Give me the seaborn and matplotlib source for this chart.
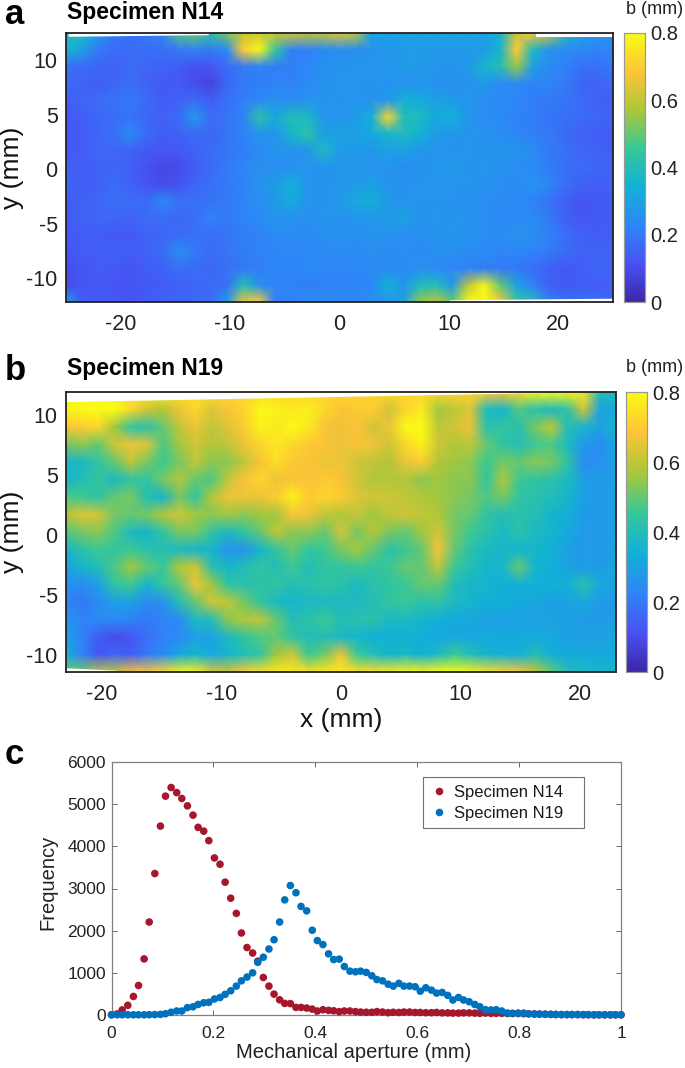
import numpy as np
import pandas as pd
import matplotlib
matplotlib.use("Agg")
import matplotlib.pyplot as plt
from matplotlib.colors import LinearSegmentedColormap
from matplotlib import font_manager
import seaborn as sns

W, H = 685, 1068

# Panel a aperture (x 0.01 mm), rows top to bottom
n14_map = [
[40,38,28,20,18,20,22,48,50,42,52,60,62,62,62,60,60,65,60,30,30,30,30,30,30,30,30,35,62,68,60,40,30,28,26],
[36,30,20,17,17,17,18,20,22,20,24,70,80,45,22,22,24,25,25,26,27,28,28,28,28,28,28,36,70,38,26,24,24,22,22],
[18,17,16,15,17,16,15,14,11,12,17,20,22,21,21,23,25,26,27,27,27,28,28,27,26,28,36,40,55,30,24,22,18,18,20],
[17,15,14,16,18,15,13,13,10,8,16,20,21,22,22,24,26,27,27,26,26,26,26,26,25,26,28,24,24,22,22,20,16,15,17],
[14,16,17,19,20,17,14,15,17,14,18,21,24,25,24,26,26,26,26,26,27,35,33,30,28,27,25,24,23,21,20,19,17,15,14],
[13,14,16,17,19,16,15,17,28,17,19,22,42,32,40,38,27,27,28,34,72,40,38,32,34,27,25,24,22,21,19,18,17,16,15],
[13,14,16,18,24,17,14,15,17,16,19,22,26,27,36,42,30,30,30,32,36,38,35,28,27,26,26,24,23,21,20,17,15,14,13],
[13,14,16,16,15,13,12,13,15,17,19,21,24,26,26,27,38,29,28,27,30,30,27,26,26,27,26,27,26,24,20,18,16,15,14],
[15,14,15,16,15,11,9,10,14,17,20,23,25,25,26,26,26,27,27,26,26,24,26,27,28,26,27,26,25,24,21,18,17,16,15],
[16,14,15,17,15,12,10,11,16,18,20,22,26,28,34,27,26,27,28,30,26,26,26,26,26,27,26,25,24,26,23,18,15,14,15],
[14,15,16,18,17,17,23,18,18,19,20,23,25,28,33,27,26,28,32,34,28,26,26,26,26,25,25,24,24,22,19,15,12,13,14],
[13,15,16,16,15,17,17,16,18,22,20,22,24,26,26,25,27,26,27,27,28,30,26,27,26,26,25,24,24,24,20,15,12,13,14],
[13,14,14,13,13,15,16,17,18,18,19,21,22,24,24,24,25,25,25,26,26,25,25,26,27,26,25,24,26,25,22,18,15,14,14],
[12,14,14,15,14,15,17,25,20,17,19,21,22,23,23,23,24,24,24,25,24,25,24,25,25,24,24,23,23,22,20,17,15,15,15],
[10,12,14,13,12,14,15,18,17,16,18,20,21,23,22,24,23,23,23,24,24,24,25,24,23,22,21,20,20,18,15,13,14,16,15],
[10,12,13,12,12,13,14,15,16,17,18,40,26,22,22,21,22,22,22,23,35,27,38,40,28,60,78,50,30,22,15,13,14,14,14],
[30,14,13,13,12,13,15,15,16,17,30,66,70,22,22,24,25,24,24,25,26,30,55,60,50,80,80,68,45,40,22,18,18,18,16],
]
# Panel b aperture (x 0.01 mm), rows top to bottom
n19_map = [
[78,78,78,78,76,76,75,75,74,74,74,72,72,72,72,72,72,72,72,72,72,72,72,72,72,72,70,68,72,78,80,78,75,40,38],
[78,80,80,80,72,62,58,66,72,64,68,72,80,78,76,78,72,68,70,70,62,72,76,56,60,64,38,36,48,42,38,42,62,30,32],
[68,70,72,56,44,42,50,60,66,60,64,70,78,76,80,76,68,66,68,62,66,80,80,60,62,66,42,44,42,52,60,40,36,30,36],
[52,54,50,62,66,64,48,56,62,58,60,66,72,76,72,70,68,66,68,66,62,72,78,62,58,60,50,44,40,46,48,38,28,24,32],
[36,38,44,50,60,52,46,52,60,54,54,60,68,74,70,68,66,66,62,60,58,66,70,58,56,54,46,52,50,54,52,44,24,26,30],
[36,40,44,38,44,44,52,58,50,48,60,68,72,66,68,68,70,68,62,58,58,58,54,56,54,54,44,58,46,44,42,38,30,28,30],
[48,46,44,50,52,40,36,52,44,58,66,66,66,70,78,70,72,70,64,62,62,60,58,56,54,52,48,52,44,42,40,36,30,28,30],
[58,64,62,52,50,52,58,62,56,54,56,54,56,56,68,66,60,58,60,56,60,62,60,58,52,50,44,40,42,40,36,34,28,28,30],
[48,52,54,48,38,36,44,52,52,44,38,44,50,60,54,54,50,62,52,58,52,50,56,62,52,46,42,38,42,38,36,32,28,28,30],
[36,42,46,44,46,42,40,38,36,36,26,26,36,44,50,44,46,52,56,50,42,46,50,68,50,42,38,36,36,36,34,30,28,28,30],
[30,36,40,48,56,50,46,58,62,42,36,40,44,40,46,40,44,44,46,44,46,50,50,60,46,40,36,36,50,36,34,30,28,28,32],
[26,24,30,44,46,36,44,50,66,56,44,42,42,44,40,42,44,42,38,42,44,46,50,50,40,36,36,34,34,34,34,34,42,32,30],
[22,20,24,30,30,24,26,40,50,62,60,52,44,38,36,38,38,38,38,40,44,46,42,44,38,36,34,34,32,32,30,30,32,28,28],
[26,22,24,24,22,20,22,24,38,40,54,58,60,50,40,42,46,40,42,42,38,38,36,34,32,32,30,30,30,30,30,30,28,28,30],
[30,22,14,10,12,18,22,24,30,30,38,44,48,50,44,40,40,38,36,34,34,34,34,32,32,32,32,32,32,32,32,30,30,30,32],
[34,22,12,16,14,20,24,32,36,32,36,40,44,56,62,46,52,66,46,40,36,38,34,38,46,40,36,34,34,40,34,32,32,32,32],
[50,52,60,60,68,68,72,78,78,64,62,70,74,76,76,74,76,76,74,74,76,78,78,80,80,78,74,72,68,60,50,40,38,36,36],
]

# Uncovered (white) strips along the map edges: x span and the y of the inner boundary
a_top_gap_x = [-24.8, -12.0]
a_top_gap_y = [12.2, 12.35]
a_top_gap2_x = [18.0, 25.0]
a_top_gap2_y = [12.15, 12.15]
a_bot_gap_x = [10.0, 25.0]
a_bot_gap_y = [-12.0, -11.85]
b_top_gap_x = [-23.0, 16.5]
b_top_gap_y = [11.1, 11.85]
b_bot_gap_x = [-23.0, -18.8]
b_bot_gap_y = [-11.05, -11.25]

aperture = [
0.000,0.011,0.021,0.032,0.043,0.053,0.064,0.074,0.085,0.096,0.106,0.117,0.128,0.138,0.149,0.160,0.170,0.181,0.191,
0.202,0.213,0.223,0.234,0.245,0.255,0.266,0.277,0.287,0.298,0.309,0.319,0.330,0.340,0.351,0.362,0.372,0.383,0.394,
0.404,0.415,0.426,0.436,0.447,0.457,0.468,0.479,0.489,0.500,0.511,0.521,0.532,0.543,0.553,0.564,0.574,0.585,0.596,
0.606,0.617,0.628,0.638,0.649,0.660,0.670,0.681,0.691,0.702,0.713,0.723,0.734,0.745,0.755,0.766,0.777,0.787,0.798,
0.809,0.819,0.830,0.840,0.851,0.862,0.872,0.883,0.894,0.904,0.915,0.926,0.936,0.947,0.957,0.968,0.979,0.989,1.000]
freq_n14 = [
5,25,120,230,440,700,1330,2205,3355,4480,5190,5395,5275,5135,4960,4740,4450,4360,4135,3725,
3575,3150,2770,2410,1945,1600,1470,1275,890,685,495,360,275,270,180,180,165,140,95,125,
110,100,80,95,95,80,70,65,65,80,70,55,
65,60,70,70,60,60,55,55,60,50,50,45,45,50,50,45,40,45,40,40,40,35,35,35,30,30,25,20,20,15,
10,10,10,10,10,5,5,5,5,5,5,5,5]
freq_n19 = [
5,5,5,5,5,5,5,8,10,15,30,65,95,95,175,195,250,290,300,380,415,490,575,685,810,900,1000,
1250,1370,1565,1785,2205,2730,3070,2900,2575,2470,2010,1765,1670,1450,1315,1325,1150,1040,
1025,1040,1010,930,840,810,730,
685,750,685,685,670,565,645,590,520,535,465,355,415,355,315,250,195,125,120,125,95,45,40,45,45,25,
20,20,15,15,15,10,10,10,10,10,10,5,5,5,5,5,5]

series_names = ["Specimen N14", "Specimen N19"]
series_colors = ["#A6172D", "#0072BD"]
map_ticks_x = [-20, -10, 0, 10, 20]
map_ticks_y = [10, 5, 0, -5, -10]
cbar_ticks = [0, 0.2, 0.4, 0.6, 0.8]
cbar_labels = ["0", "0.2", "0.4", "0.6", "0.8"]
c_xticks = [0, 0.2, 0.4, 0.6, 0.8, 1]
c_xlabels = ["0", "0.2", "0.4", "0.6", "0.8", "1"]
c_yticks = [0, 1000, 2000, 3000, 4000, 5000, 6000]

parula = LinearSegmentedColormap.from_list("parula", [
    (0.2422, 0.1504, 0.6603), (0.2810, 0.3228, 0.9579), (0.1786, 0.5289, 0.9682),
    (0.0689, 0.6948, 0.8394), (0.2161, 0.7843, 0.5923), (0.6720, 0.7793, 0.2227),
    (0.9970, 0.7659, 0.2199), (0.9769, 0.9839, 0.0805)], N=256)

sns.set_theme(style="ticks")
plt.rcParams["font.family"] = ["Liberation Sans", "DejaVu Sans"]
plt.rcParams["text.color"] = "#1a1a1a"

installed = {f.name for f in font_manager.fontManager.ttflist}
narrow = "Liberation Sans Narrow" if "Liberation Sans Narrow" in installed else "Liberation Sans"
tick_size = 18 if narrow.endswith("Narrow") else 15.5
cbar_size = 17 if narrow.endswith("Narrow") else 14.5

fig = plt.figure(figsize=(W / 100, H / 100), dpi=100)


def axes_px(x0, y0, x1, y1):
    return fig.add_axes([x0 / W, 1 - y1 / H, (x1 - x0) / W, (y1 - y0) / H])


def draw_map(grid, box, cbox, xr, yr, show_xlabel, gaps):
    ax = axes_px(*box)
    cax = axes_px(*cbox)
    arr = np.array(grid) / 100
    sns.heatmap(pd.DataFrame(arr), ax=ax, cbar_ax=cax, cmap=parula, vmin=0, vmax=0.8,
                shading="gouraud", xticklabels=False, yticklabels=False)
    nr, nc = arr.shape
    to_col = lambda v: (np.asarray(v, float) - xr[0]) / (xr[1] - xr[0]) * (nc - 1)
    to_row = lambda v: (yr[1] - np.asarray(v, float)) / (yr[1] - yr[0]) * (nr - 1)
    ax.set_xlim(0, nc - 1)
    ax.set_ylim(nr - 1, 0)
    for gx, gy, edge in gaps:
        ax.fill_between(to_col(gx), to_row(gy), to_row([edge, edge]), color="white", lw=0, zorder=2)
    ax.set_xticks(to_col(map_ticks_x), [str(v) for v in map_ticks_x])
    ax.set_yticks(to_row(map_ticks_y), [str(v) for v in map_ticks_y])
    ax.tick_params(axis="both", direction="in", length=4, width=0.9, color="#222222",
                   labelsize=tick_size, labelcolor="#222222", top=True, right=True, pad=6)
    ax.tick_params(axis="x", pad=9)
    for t in ax.get_xticklabels() + ax.get_yticklabels():
        t.set_family(narrow)
    for s in ax.spines.values():
        s.set_visible(True)
        s.set_color("#222222")
        s.set_linewidth(1.3)
    ax.set_ylabel("y (mm)", fontsize=19, labelpad=2, color="#111111")
    ax.set_xlabel("x (mm)" if show_xlabel else "", fontsize=19, labelpad=2, color="#111111")
    cax.set_yticks(cbar_ticks, cbar_labels)
    cax.tick_params(axis="y", direction="in", length=3, width=0.7, color="#555555",
                    labelsize=cbar_size, labelcolor="#222222", pad=4, right=True)
    for t in cax.get_yticklabels():
        t.set_family(narrow)
    for s in cax.spines.values():
        s.set_visible(True)
        s.set_color("#999999")
        s.set_linewidth(0.8)
    return ax


draw_map(n14_map, (66, 33, 613, 302), (624, 33, 645, 302), (-25, 25), (-12.2, 12.5), False,
         [(a_top_gap_x, a_top_gap_y, 12.5), (a_top_gap2_x, a_top_gap2_y, 12.5), (a_bot_gap_x, a_bot_gap_y, -12.2)])
draw_map(n19_map, (66, 392, 616, 672), (626, 392, 647, 672), (-23, 23), (-11.4, 11.9), True,
         [(b_top_gap_x, b_top_gap_y, 11.9), (b_bot_gap_x, b_bot_gap_y, -11.4)])

# Panel c
axc = axes_px(111.5, 762, 621, 1015)
df = pd.DataFrame({
    "aperture": aperture * 2,
    "freq": freq_n14 + freq_n19,
    "specimen": [series_names[0]] * len(aperture) + [series_names[1]] * len(aperture),
})
sns.scatterplot(data=df, x="aperture", y="freq", hue="specimen", hue_order=series_names,
                palette=series_colors, s=30, linewidth=0, ax=axc, clip_on=False, zorder=3)
axc.set_xlim(0, 1)
axc.set_ylim(0, 6000)
axc.set_xticks(c_xticks, c_xlabels)
axc.set_yticks(c_yticks)
axc.tick_params(axis="both", direction="in", length=3.5, width=0.7, color="#666666",
                labelsize=12.5, labelcolor="#222222", top=True, right=True, pad=4)
axc.tick_params(axis="x", pad=8)
for s in axc.spines.values():
    s.set_visible(True)
    s.set_color("#808080")
    s.set_linewidth(0.9)
axc.set_xlabel("Mechanical aperture (mm)", fontsize=14.5, labelpad=1, color="#222222", x=0.476)
axc.set_ylabel("Frequency", fontsize=14.5, labelpad=7, color="#222222", y=0.526)
leg = axc.legend(loc="upper left", bbox_to_anchor=(0.612, 0.94, 161 / 509.5, 0), mode="expand",
                 fontsize=12, frameon=True, fancybox=False, framealpha=1, edgecolor="#707070",
                 borderaxespad=0, borderpad=0.45, labelspacing=0.35, handlelength=1.0,
                 handletextpad=0.4, markerscale=1.0)
leg.get_frame().set_linewidth(0.8)

# Annotations
for lab, name, cb, yl, yt, yc in [("a", "Specimen N14", "b (mm)", 15, 12, 10),
                                   ("b", "Specimen N19", "b (mm)", 371, 368, 368),
                                   ("c", None, None, 755, None, None)]:
    fig.text(5 / W, 1 - yl / H, lab, fontsize=25, fontweight="bold", va="center", color="black")
    if name:
        fig.text(67 / W, 1 - yt / H, name, fontsize=16.5, fontweight="bold", va="center", color="black")
        fig.text(683 / W, 1 - yc / H, cb, fontsize=13, ha="right", va="center", color="#222222")

fig.savefig("out.png", dpi=100)
